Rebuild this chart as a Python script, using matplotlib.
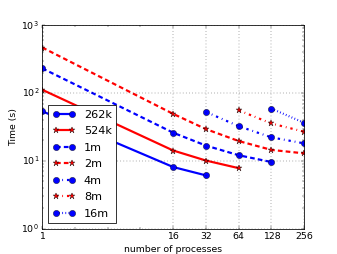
import matplotlib
matplotlib.use("Agg")
import matplotlib.pyplot as plt
from matplotlib.ticker import FixedLocator, NullFormatter, FixedFormatter

plt.style.use('classic')

#data
labels = ['262k', '524k', '1m', '2m', '4m', '8m', '16m']
procs = {
    '262k': [1, 16, 32],
    '524k': [1, 16, 32, 64],
    '1m': [1, 16, 32, 64, 128],
    '2m': [1, 16, 32, 64, 128, 256],
    '4m': [32, 64, 128, 256],
    '8m': [64, 128, 256],
    '16m': [128, 256],
}
times = {
    '262k': [54, 8.1, 6.1],
    '524k': [112, 14.2, 10.1, 7.8],
    '1m': [232, 26, 16.8, 12.1, 9.6],
    '2m': [471, 49.3, 29.4, 19.6, 14.5, 12.9],
    '4m': [52.7, 32.5, 22.2, 18.1],
    '8m': [55.7, 35.6, 26.9],
    '16m': [59, 36.4],
}
styles = {
    '262k': 'bo-',
    '524k': 'r*-',
    '1m': 'bo--',
    '2m': 'r*--',
    '4m': 'bo-.',
    '8m': 'r*-.',
    '16m': 'bo:',
}
xticks = [1, 16, 32, 64, 128, 256]
xminor = [2, 4, 8]

fig = plt.figure(figsize=(6.0, 4.51), dpi=56.33)
ax = fig.add_subplot(111)
for name in labels:
    line, = ax.plot(procs[name], times[name], styles[name], label=name,
                    linewidth=2.8, markersize=8)
    if styles[name].endswith('--'):
        line.set_dashes((6, 4))

ax.set_xscale('log', base=2)
ax.set_yscale('log')
ax.set_xlim(1, 256)
ax.set_ylim(1, 1000)
ax.xaxis.set_major_locator(FixedLocator(xticks))
ax.xaxis.set_major_formatter(FixedFormatter([str(t) for t in xticks]))
ax.xaxis.set_minor_locator(FixedLocator(xminor))
ax.xaxis.set_minor_formatter(NullFormatter())
ax.grid(True)
ax.set_xlabel('number of processes')
ax.set_ylabel('Time (s)')
ax.legend(loc='lower left', labelspacing=0.57)
fig.savefig('out.png', dpi=56.33)
